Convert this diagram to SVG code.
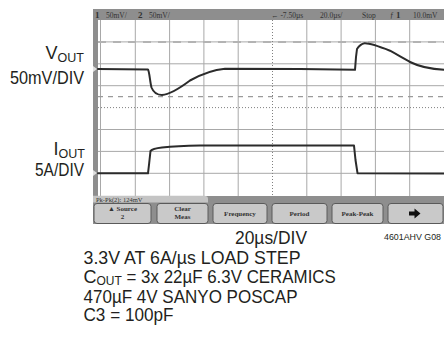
<svg xmlns="http://www.w3.org/2000/svg" width="444" height="337" viewBox="0 0 444 337">
<style>
.lbl{font-family:"Liberation Sans",Arial,sans-serif;font-size:18px;fill:#231f20}
.sub{font-size:12.5px}
.scr{font-family:"Liberation Serif","Times New Roman",serif;font-size:7.5px;fill:#333}
.big{font-size:9px;font-weight:bold}
.btn{font-family:"Liberation Serif","Times New Roman",serif;font-weight:bold;font-size:7px;fill:#333;text-anchor:middle}
.grid{stroke:#a8a8a8;stroke-width:1;fill:none}
.ctr{stroke:#808080;stroke-width:1;stroke-dasharray:1 2;fill:none}
.trace{stroke:#2b2b2b;stroke-width:2;fill:none;stroke-linejoin:round;stroke-linecap:round}
.key{fill:#c9c9c9;stroke:#5a5a5a;stroke-width:1}
</style>
<rect width="444" height="337" fill="#fff"/>
<g id="scope">
<rect x="93" y="9" width="351" height="215" fill="#8e8e8e"/>
<rect x="98" y="20" width="346" height="176" fill="#fff"/>
<g id="grid">
<path class="grid" d="M100.5,20V196M135.3,20V196M169.6,20V196M203.9,20V196M238.2,20V196M306.8,20V196M341.1,20V196M375.4,20V196M409.7,20V196"/>
<path class="grid" d="M98,41.9H444M98,63.8H444M98,85.7H444M98,129.5H444M98,151.4H444M98,173.3H444"/>
<path class="ctr" d="M272.5,20V196M98,107.6H444"/>
<line x1="98" y1="42" x2="444" y2="42" stroke="#b3b3b3" stroke-width="2" stroke-dasharray="8 7"/>
<line x1="98" y1="96.7" x2="444" y2="96.7" stroke="#9a9a9a" stroke-width="1.3" stroke-dasharray="5 5"/>
</g>
<g id="header">
<text class="scr big" x="95" y="18">1</text>
<text class="scr" x="106" y="17.5">50mV/</text>
<text class="scr big" x="138" y="18">2</text>
<text class="scr" x="149" y="17.5">50mV/</text>
<text class="scr" x="271" y="17.5">←  -7.50µs</text>
<text class="scr" x="320" y="17.5">20.0µs/</text>
<text class="scr" x="362" y="17.5">Stop</text>
<text class="scr" x="390" y="17.5">ƒ</text>
<text class="scr big" x="396" y="18">1</text>
<text class="scr" x="413" y="17.5">10.0mV</text>
</g>
<polygon points="93,66 97,69 93,72" fill="#e0e0e0"/>
<polygon points="93,170 97,173 93,176" fill="#e0e0e0"/>
<g id="vout-trace"><path class="trace" d="M98,69 L148,69.5 C149.5,72 150,82 151.5,87.5 C153.5,92.5 157,95 162,95 C170,94.5 180,88 190,80.5 C200,75 212,70 225,68.8 L300,69 L355,69.8 L356,57 L357,49 C359,46 361,44 364.5,43.3 C370,43 378,46 390,50.7 C398,55 404,59 410,62 C418,66 428,69 444,69.8"/></g>
<g id="iout-trace"><path class="trace" d="M98,173.3 L148,173.3 L149.2,163 L150.5,151 C152,149.3 156,148.3 162,147.6 C172,146.6 182,146 200,145.6 L354,145.6 L355.5,160 L357.5,173.2 L444,173.4"/></g>
<g id="measure">
<path d="M93,195.8H204Q208,195.8 208,199V202.6H93Z" fill="#c4c4c4"/>
<text class="scr" x="96" y="201.6" style="font-size:6.5px">Pk-Pk(2):  124mV</text>
</g>
<g id="softkeys">
<rect class="key" x="94" y="203.5" width="57" height="20" rx="3"/>
<text class="btn" x="122.5" y="211">▲ Source</text>
<text class="btn" x="122.5" y="219">2</text>
<rect class="key" x="157" y="203.5" width="51" height="20" rx="3"/>
<text class="btn" x="182.5" y="211">Clear</text>
<text class="btn" x="182.5" y="219">Meas</text>
<rect class="key" x="213" y="203.5" width="54" height="20" rx="3"/>
<text class="btn" x="240" y="215.5">Frequency</text>
<rect class="key" x="272" y="203.5" width="55" height="20" rx="3"/>
<text class="btn" x="299.5" y="215.5">Period</text>
<rect class="key" x="332" y="203.5" width="51" height="20" rx="3"/>
<text class="btn" x="357.5" y="215.5">Peak-Peak</text>
<rect class="key" x="388" y="203.5" width="55" height="20" rx="3"/>
<polygon points="409,211.5 414.5,211.5 414.5,208.5 420.5,213.5 414.5,218.5 414.5,215.5 409,215.5" fill="#111"/>
</g>
</g>
<g id="labels">
<text class="lbl" x="84" y="58.5" text-anchor="end">V<tspan class="sub" dy="3">OUT</tspan></text>
<text class="lbl" x="84" y="84" text-anchor="end" textLength="74" lengthAdjust="spacingAndGlyphs">50mV/DIV</text>
<text class="lbl" x="85" y="155" text-anchor="end">I<tspan class="sub" dy="3">OUT</tspan></text>
<text class="lbl" x="84" y="175.5" text-anchor="end" textLength="49" lengthAdjust="spacingAndGlyphs">5A/DIV</text>
<text class="lbl" x="235" y="244" textLength="72" lengthAdjust="spacingAndGlyphs">20µs/DIV</text>
<text class="lbl" x="384" y="240" style="font-size:9px" textLength="57" lengthAdjust="spacingAndGlyphs">4601AHV G08</text>
<text class="lbl" x="83.5" y="263.5" textLength="217" lengthAdjust="spacingAndGlyphs">3.3V AT 6A/µs LOAD STEP</text>
<text class="lbl" x="83.5" y="282.5">C<tspan class="sub" dy="2.5" style="font-size:12px">OUT</tspan><tspan dy="-2.5" textLength="214" lengthAdjust="spacingAndGlyphs"> = 3x 22µF 6.3V CERAMICS</tspan></text>
<text class="lbl" x="83.5" y="302.5" textLength="214" lengthAdjust="spacingAndGlyphs">470µF 4V SANYO POSCAP</text>
<text class="lbl" x="83.5" y="320.5" textLength="90" lengthAdjust="spacingAndGlyphs">C3 = 100pF</text>
</g>
</svg>
